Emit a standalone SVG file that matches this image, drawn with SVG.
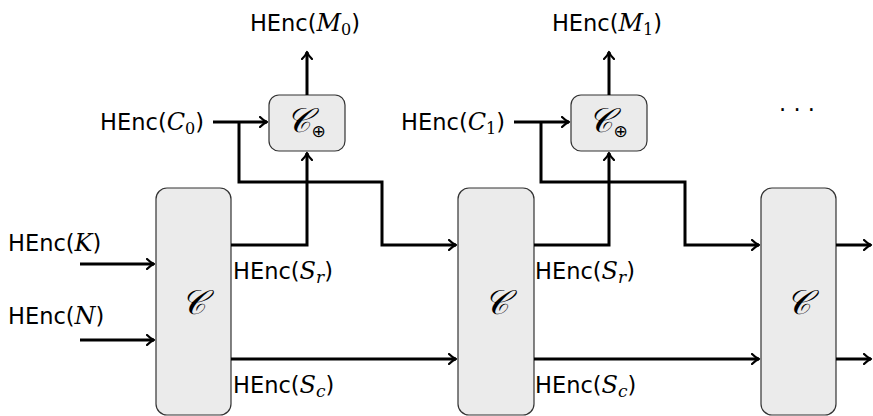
<svg xmlns="http://www.w3.org/2000/svg" width="873" height="416" viewBox="0 0 873 416">
  <defs>
    <marker id="arr" viewBox="-8 -6 10 12" markerWidth="10" markerHeight="12" refX="0" refY="0" orient="auto" markerUnits="userSpaceOnUse">
      <path d="M-7,-5 Q-3,-1 0,0 Q-3,1 -7,5" fill="none" stroke="#000" stroke-width="2.2" stroke-linecap="round" stroke-linejoin="round"/>
    </marker>
  </defs>
  <style>
    .box { fill: #ebebeb; stroke: #333; stroke-width: 1.2; }
    .wire { fill: none; stroke: #000; stroke-width: 3; stroke-linejoin: miter; }
    .arrow { marker-end: url(#arr); }
    .lbl { font-family: "DejaVu Sans", "Liberation Sans", sans-serif; font-size: 22.5px; fill: #000; }
    .mi { font-family: "DejaVu Serif", "Liberation Serif", serif; font-style: italic; font-size: 24px; }
    .sub { font-family: "DejaVu Serif", "Liberation Serif", serif; font-size: 16px; }
    .isub { font-family: "DejaVu Serif", "Liberation Serif", serif; font-style: italic; font-size: 17px; }
    .cal { font-family: "DejaVu Serif", "Liberation Serif", serif; font-style: italic; font-size: 34px; fill: #000; }
    .op { font-family: "DejaVu Sans", sans-serif; font-style: normal; font-size: 17px; }
  </style>

  <!-- compression blocks -->
  <g id="C1"><rect class="box" x="156" y="188" width="75" height="227" rx="11"/><text class="cal" x="193.5" y="314" text-anchor="middle">𝒞</text></g>
  <g id="C2"><rect class="box" x="458" y="188" width="76" height="227" rx="11"/><text class="cal" x="496" y="314" text-anchor="middle">𝒞</text></g>
  <g id="C3"><rect class="box" x="761" y="188" width="75" height="227" rx="11"/><text class="cal" x="798.5" y="314" text-anchor="middle">𝒞</text></g>

  <!-- XOR blocks -->
  <g id="X0"><rect class="box" x="269" y="95" width="76" height="56" rx="10"/><text class="cal" x="306" y="132" text-anchor="middle">𝒞<tspan class="op" dy="5">⊕</tspan></text></g>
  <g id="X1"><rect class="box" x="571" y="95" width="76" height="56" rx="10"/><text class="cal" x="608" y="132" text-anchor="middle">𝒞<tspan class="op" dy="5">⊕</tspan></text></g>

  <!-- connectors -->
  <g id="wires">
    <path class="wire arrow" d="M80,264 H154"/>
    <path class="wire arrow" d="M80,340 H154"/>
    <path class="wire arrow" d="M213,122 H267"/>
    <path class="wire arrow" d="M231,245 H307 V153"/>
    <path class="wire arrow" d="M239,122 V182 H382 V245 H456"/>
    <path class="wire arrow" d="M231,359 H456"/>
    <path class="wire arrow" d="M307,95 V52"/>

    <path class="wire arrow" d="M514,122 H569"/>
    <path class="wire arrow" d="M534,245 H609 V153"/>
    <path class="wire arrow" d="M541,122 V182 H685 V245 H759"/>
    <path class="wire arrow" d="M534,359 H759"/>
    <path class="wire arrow" d="M609,95 V52"/>

    <path class="wire arrow" d="M836,245 H871"/>
    <path class="wire arrow" d="M836,359 H871"/>
  </g>

  <!-- labels -->
  <g id="labels">
    <text class="lbl" x="305" y="31" text-anchor="middle">HEnc(<tspan class="mi">M</tspan><tspan class="sub" dy="4">0</tspan><tspan dy="-4">)</tspan></text>
    <text class="lbl" x="607" y="31" text-anchor="middle">HEnc(<tspan class="mi">M</tspan><tspan class="sub" dy="4">1</tspan><tspan dy="-4">)</tspan></text>
    <text class="lbl" x="204" y="130" text-anchor="end">HEnc(<tspan class="mi">C</tspan><tspan class="sub" dy="4">0</tspan><tspan dy="-4">)</tspan></text>
    <text class="lbl" x="505" y="130" text-anchor="end">HEnc(<tspan class="mi">C</tspan><tspan class="sub" dy="4">1</tspan><tspan dy="-4">)</tspan></text>
    <text class="lbl" x="8" y="251">HEnc(<tspan class="mi">K</tspan>)</text>
    <text class="lbl" x="8" y="324">HEnc(<tspan class="mi">N</tspan>)</text>
    <text class="lbl" x="233" y="279">HEnc(<tspan class="mi">S</tspan><tspan class="isub" dy="4">r</tspan><tspan dy="-4">)</tspan></text>
    <text class="lbl" x="233" y="393">HEnc(<tspan class="mi">S</tspan><tspan class="isub" dy="4">c</tspan><tspan dy="-4">)</tspan></text>
    <text class="lbl" x="535" y="279">HEnc(<tspan class="mi">S</tspan><tspan class="isub" dy="4">r</tspan><tspan dy="-4">)</tspan></text>
    <text class="lbl" x="535" y="393">HEnc(<tspan class="mi">S</tspan><tspan class="isub" dy="4">c</tspan><tspan dy="-4">)</tspan></text>
    <text class="lbl" x="797" y="118" text-anchor="middle">· · ·</text>
  </g>
</svg>
